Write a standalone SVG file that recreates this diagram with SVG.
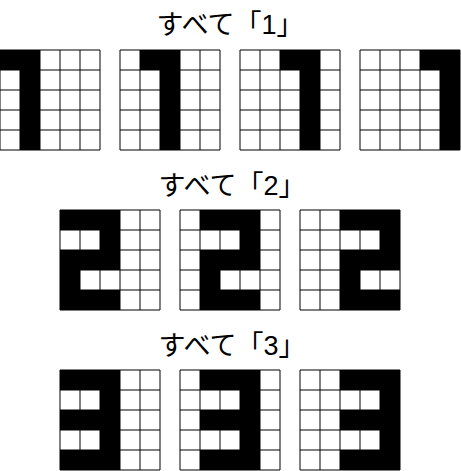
<svg xmlns="http://www.w3.org/2000/svg" xmlns:xlink="http://www.w3.org/1999/xlink" width="461" height="471" viewBox="0 0 461 471">
<style>
.t{font-family:"Liberation Sans","Noto Sans CJK JP",sans-serif;font-size:27px;fill:#000;text-anchor:middle}
.bg{fill:#fff}
.b{fill:#000}
.g{fill:none;stroke:#000;stroke-width:1}
</style>
<defs>
<path id="grid" class="g" d="M0,0h100v100h-100z M20,0v100 M40,0v100 M60,0v100 M80,0v100 M0,20h100 M0,40h100 M0,60h100 M0,80h100"/>
<path id="d1" class="b" d="M0,0h40v20h-40z M20,20h20v80h-20z"/>
<path id="d2" class="b" d="M0,0h60v60h-60z M0,60h20v20h-20z M0,80h60v20h-60z M0,20h40v20h-40z" fill-rule="evenodd"/>
<path id="d3" class="b" d="M0,0h60v20h-60z M40,20h20v20h-20z M0,40h60v20h-60z M40,60h20v20h-20z M0,80h60v20h-60z"/>
</defs>
<rect width="461" height="471" fill="#fff"/>
<text id="title1" class="t" x="230" y="34">すべて「1」</text>
<text id="title2" class="t" x="232" y="195">すべて「2」</text>
<text id="title3" class="t" x="232" y="355">すべて「3」</text>
<g id="one-a" transform="translate(0,50)"><rect class="bg" width="100" height="100"/><use xlink:href="#d1" x="0"/><use xlink:href="#grid"/></g>
<g id="one-b" transform="translate(120,50)"><rect class="bg" width="100" height="100"/><use xlink:href="#d1" x="20"/><use xlink:href="#grid"/></g>
<g id="one-c" transform="translate(240,50)"><rect class="bg" width="100" height="100"/><use xlink:href="#d1" x="40"/><use xlink:href="#grid"/></g>
<g id="one-d" transform="translate(360,50)"><rect class="bg" width="100" height="100"/><use xlink:href="#d1" x="60"/><use xlink:href="#grid"/></g>
<g id="two-a" transform="translate(60,210)"><rect class="bg" width="100" height="100"/><use xlink:href="#d2" x="0"/><use xlink:href="#grid"/></g>
<g id="two-b" transform="translate(180,210)"><rect class="bg" width="100" height="100"/><use xlink:href="#d2" x="20"/><use xlink:href="#grid"/></g>
<g id="two-c" transform="translate(300,210)"><rect class="bg" width="100" height="100"/><use xlink:href="#d2" x="40"/><use xlink:href="#grid"/></g>
<g id="three-a" transform="translate(60,370)"><rect class="bg" width="100" height="100"/><use xlink:href="#d3" x="0"/><use xlink:href="#grid"/></g>
<g id="three-b" transform="translate(180,370)"><rect class="bg" width="100" height="100"/><use xlink:href="#d3" x="20"/><use xlink:href="#grid"/></g>
<g id="three-c" transform="translate(300,370)"><rect class="bg" width="100" height="100"/><use xlink:href="#d3" x="40"/><use xlink:href="#grid"/></g>
<g id="connectors"/>
</svg>
